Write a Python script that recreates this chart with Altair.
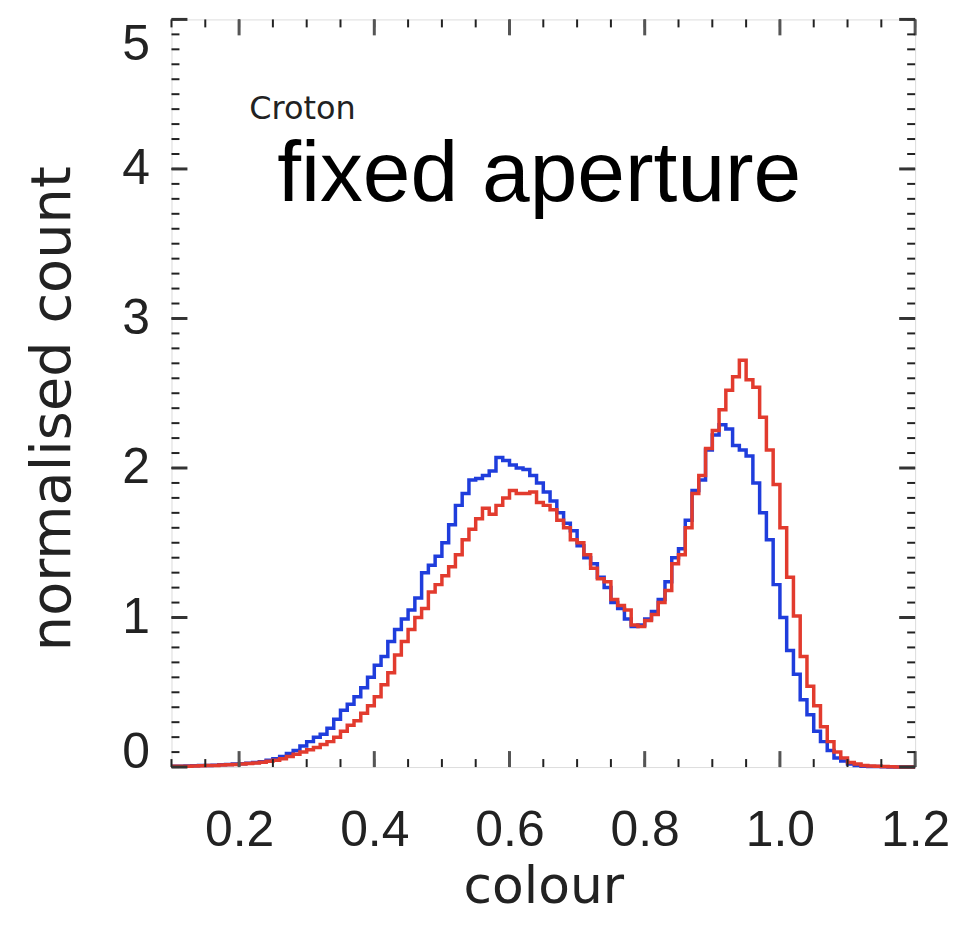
import altair as alt
import pandas as pd

# bin starts (width 0.01) from 0.10 to 1.19
bin_start = [round(0.10 + 0.01 * i, 2) for i in range(110)]

blue_vals = [
    0.005, 0.005, 0.007, 0.008, 0.010, 0.010, 0.012, 0.015, 0.017, 0.020,   # 0.10-0.19
    0.022, 0.026, 0.030, 0.036, 0.045, 0.055, 0.070, 0.090, 0.110, 0.140,   # 0.20-0.29
    0.170, 0.200, 0.220, 0.260, 0.320, 0.380, 0.420, 0.470, 0.530, 0.600,   # 0.30-0.39
    0.680, 0.740, 0.840, 0.920, 0.990, 1.050, 1.130, 1.300, 1.350, 1.410,   # 0.40-0.49
    1.500, 1.620, 1.750, 1.830, 1.920, 1.930, 1.950, 1.980, 2.070, 2.050,   # 0.50-0.59
    2.020, 2.000, 1.990, 1.950, 1.900, 1.840, 1.780, 1.700, 1.630, 1.580,   # 0.60-0.69
    1.480, 1.400, 1.360, 1.270, 1.200, 1.100, 1.060, 0.990, 0.940, 0.950,   # 0.70-0.79
    0.990, 1.040, 1.120, 1.240, 1.400, 1.460, 1.650, 1.850, 1.920, 2.120,   # 0.80-0.89
    2.220, 2.290, 2.260, 2.150, 2.120, 2.080, 1.900, 1.700, 1.520, 1.220,   # 0.90-0.99
    1.000, 0.780, 0.620, 0.450, 0.350, 0.240, 0.170, 0.110, 0.060, 0.040,   # 1.00-1.09
    0.020, 0.010, 0.006, 0.004, 0.003, 0.002, 0.001, 0.001, 0.000, 0.000,   # 1.10-1.19
]

red_vals = [
    0.005, 0.005, 0.006, 0.007, 0.008, 0.010, 0.011, 0.013, 0.015, 0.017,   # 0.10-0.19
    0.020, 0.023, 0.027, 0.032, 0.038, 0.045, 0.055, 0.070, 0.085, 0.100,   # 0.20-0.29
    0.115, 0.130, 0.150, 0.170, 0.200, 0.240, 0.280, 0.310, 0.360, 0.410,   # 0.30-0.39
    0.470, 0.550, 0.630, 0.750, 0.840, 0.920, 1.000, 1.060, 1.170, 1.220,   # 0.40-0.49
    1.280, 1.340, 1.420, 1.520, 1.590, 1.660, 1.730, 1.690, 1.750, 1.800,   # 0.50-0.59
    1.850, 1.830, 1.830, 1.840, 1.770, 1.750, 1.720, 1.650, 1.600, 1.520,   # 0.60-0.69
    1.500, 1.420, 1.330, 1.260, 1.240, 1.120, 1.080, 1.050, 0.950, 0.940,   # 0.70-0.79
    0.980, 1.020, 1.100, 1.180, 1.360, 1.420, 1.600, 1.830, 1.950, 2.130,   # 0.80-0.89
    2.250, 2.390, 2.520, 2.610, 2.720, 2.590, 2.540, 2.340, 2.120, 1.890,   # 0.90-0.99
    1.600, 1.270, 1.010, 0.740, 0.540, 0.410, 0.270, 0.170, 0.100, 0.060,   # 1.00-1.09
    0.030, 0.020, 0.010, 0.007, 0.005, 0.003, 0.002, 0.001, 0.001, 0.000,   # 1.10-1.19
]

series_names = ["blue", "red"]
series_colors = ["#1f3ddc", "#e23b2e"]

x_major = [0.2, 0.4, 0.6, 0.8, 1.0, 1.2]
x_minor = [round(0.10 + 0.05 * i, 2) for i in range(23)]
y_major = [0, 1, 2, 3, 4, 5]
y_minor = [round(0.1 * i, 1) for i in range(51)]

W, H = 746, 750
MAJ, MIN = 16, 8

rows = []
for name, vals in zip(series_names, [blue_vals, red_vals]):
    for b, v in zip(bin_start, vals):
        rows.append({"series": name, "colour": b, "count": v})
    rows.append({"series": name, "colour": 1.20, "count": vals[-1]})
df = pd.DataFrame(rows)

xscale = alt.Scale(domain=[0.1, 1.2], nice=False, zero=False)
yscale = alt.Scale(domain=[0, 5], nice=False, zero=True)

xaxis = alt.Axis(
    values=x_major, format=".1f", title="colour", ticks=False, domain=False, grid=False,
    labelFont="Liberation Sans", labelFontSize=50, labelColor="#222",
    labelBaseline="alphabetic", labelPadding=79, labelFlush=False,
    titleFont="DejaVu Sans", titleFontSize=52, titleFontWeight="normal", titleColor="#222",
    titleX=W / 2, titleY=136, titleBaseline="alphabetic", titleAlign="center",
)
yaxis = alt.Axis(
    values=y_major, format="d", title="normalised count", ticks=False, domain=False, grid=False,
    labelFont="Liberation Sans", labelFontSize=50, labelColor="#222",
    labelPadding=22, labelFlush=False,
    labelBaseline={"condition": [{"test": "datum.value == 5", "value": "top"},
                                 {"test": "datum.value == 0", "value": "alphabetic"}],
                   "value": "middle"},
    titleFont="DejaVu Sans", titleFontSize=56, titleFontWeight="normal", titleColor="#222",
    titleX=-102, titleY=H / 2 + 15, titleBaseline="alphabetic", titleAlign="center", titleAngle=-90,
)

lines = alt.Chart(df).mark_line(interpolate="step-after", strokeWidth=3.5).encode(
    x=alt.X("colour:Q", scale=xscale, axis=xaxis),
    y=alt.Y("count:Q", scale=yscale, axis=yaxis),
    color=alt.Color("series:N", scale=alt.Scale(domain=series_names, range=series_colors), legend=None),
    order=alt.Order("colour:Q"),
)

def xticks(vals, length, width, color):
    d = pd.DataFrame({"t": vals})
    bottom = alt.Chart(d).mark_rule(strokeWidth=width, color=color).encode(
        x=alt.X("t:Q", scale=xscale), y=alt.value(H), y2=alt.value(H - length))
    top = alt.Chart(d).mark_rule(strokeWidth=width, color=color).encode(
        x=alt.X("t:Q", scale=xscale), y=alt.value(0), y2=alt.value(length))
    return [bottom, top]

def yticks(vals, length, width, color):
    d = pd.DataFrame({"t": vals})
    left = alt.Chart(d).mark_rule(strokeWidth=width, color=color).encode(
        y=alt.Y("t:Q", scale=yscale), x=alt.value(0), x2=alt.value(length))
    right = alt.Chart(d).mark_rule(strokeWidth=width, color=color).encode(
        y=alt.Y("t:Q", scale=yscale), x=alt.value(W), x2=alt.value(W - length))
    return [left, right]

tick_layers = (xticks(x_minor, MIN, 2, "#222") + xticks(x_major, MAJ, 3, "#555")
               + yticks(y_minor, MIN, 2, "#222") + yticks(y_major, MAJ, 3, "#333"))

annot = pd.DataFrame({"label": ["fixed aperture"]})
big_text = alt.Chart(annot).mark_text(
    font="Liberation Sans", fontSize=86, align="left", baseline="alphabetic", color="#000"
).encode(text="label:N", x=alt.value(106), y=alt.value(182))

small = pd.DataFrame({"label": ["Croton"]})
small_text = alt.Chart(small).mark_text(
    font="DejaVu Sans", fontSize=32, align="left", baseline="alphabetic", color="#222"
).encode(text="label:N", x=alt.value(78), y=alt.value(100))

chart = alt.layer(lines, *tick_layers, big_text, small_text).properties(
    width=W, height=H,
    autosize=alt.AutoSizeParams(type="none"),
    padding={"left": 164, "top": 10, "right": 40, "bottom": 156},
).configure_view(stroke="#111", strokeWidth=2.5).configure(background="white")

chart.save("out.html", embed_options={"renderer": "svg", "actions": False})
